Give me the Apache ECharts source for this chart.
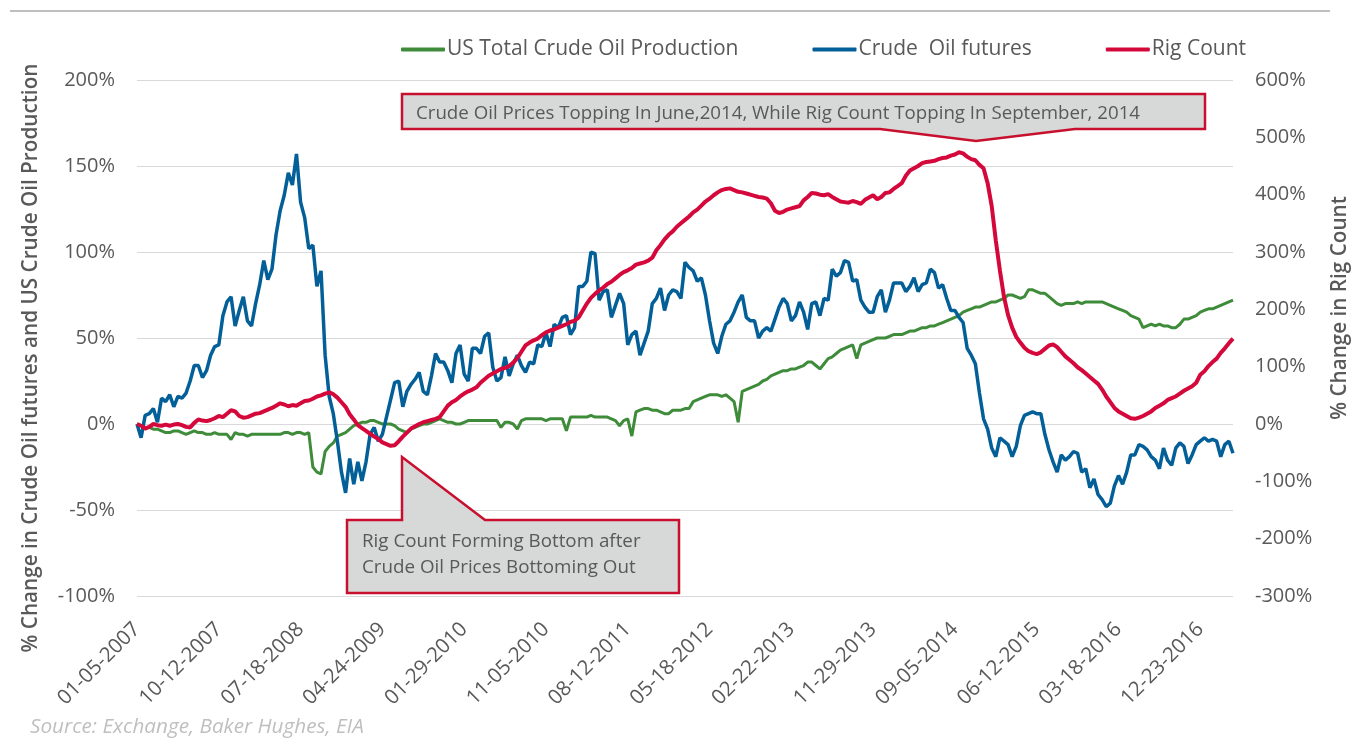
<!DOCTYPE html>
<html>
<head>
<meta charset="utf-8">
<script src="https://cdn.jsdelivr.net/npm/echarts@6/dist/echarts.min.js"></script>
<style>
html,body{margin:0;padding:0;background:#fff;}
#chart{width:1358px;height:753px;}
</style>
</head>
<body>
<div id="chart"></div>
<script>
// Weekly x positions: index i corresponds to week i*STEP after 01-05-2007
var STEP = 2;
var MAX_WEEK = 536;
var tickLabels = ['01-05-2007','10-12-2007','07-18-2008','04-24-2009','01-29-2010','11-05-2010','08-12-2011','05-18-2012','02-22-2013','11-29-2013','09-05-2014','06-12-2015','03-18-2016','12-23-2016'];
var seriesNames = ['US Total Crude Oil Production', 'Crude  Oil futures', 'Rig Count'];

// US Total Crude Oil Production, % change (left axis), biweekly
var production = [
  0,-1,-2,-2,-3,-3,-4,-5,-5,-4,-4,-5,-6,-5,-4,-5,-5,-6,-6,-5,-6,-6,-6,-9,-5,-6,
  -6,-7,-6,-6,-6,-6,-6,-6,-6,-6,-5,-5,-6,-5,-5,-6,-5,-25,-28,-29,-16,-13,-11,-7,-6,-5,
  -3,-1,0,1,1,2,2,1,0,0,0,-1,-3,-4,-5,-3,-2,-1,0,0,1,2,3,2,1,1,
  0,0,1,2,2,2,2,2,2,2,2,-2,1,1,0,-3,2,3,3,3,3,3,2,3,3,3,3,
  -4,4,4,4,4,4,5,4,4,4,4,3,2,-1,2,3,-7,7,8,9,9,8,8,7,6,6,
  8,8,8,9,9,13,14,15,16,17,17,17,16,17,15,13,1,19,20,21,22,23,25,26,28,29,
  30,31,31,32,32,33,34,36,36,34,32,35,38,39,41,43,44,45,46,38,46,47,48,49,50,50,
  50,51,52,52,52,53,54,54,55,56,56,57,57,58,59,60,61,62,63,65,66,67,68,68,69,70,
  71,71,72,73,75,75,74,73,74,78,78,77,76,76,74,72,70,69,70,70,70,71,70,71,71,71,
  71,71,70,69,68,67,66,65,63,62,61,56,57,58,57,58,57,57,56,56,58,61,61,62,63,65,
  66,67,67,68,69,70,71,72
];

// Crude Oil futures, % change (left axis), biweekly
var crude = [
  0,-8,5,6,9,1,15,13,17,10,16,15,18,25,34,34,27,31,40,45,46,63,71,74,57,66,
  74,60,57,70,81,95,84,90,110,124,133,146,139,157,129,120,102,104,80,89,40,16,6,-10,-28,-40,
  -20,-35,-22,-33,-22,-6,-2,-10,-6,4,14,24,25,10,19,23,26,30,19,17,28,41,36,36,31,24,
  41,46,29,25,44,44,41,51,53,33,25,27,39,28,35,40,34,30,36,35,46,45,53,45,58,56,62,
  63,52,56,80,80,83,100,99,72,77,78,62,69,76,70,46,52,54,40,47,54,70,73,79,66,75,
  78,77,73,94,91,89,83,85,75,60,47,41,51,58,60,65,71,75,62,60,60,50,54,56,54,61,
  68,73,70,60,63,71,65,55,70,71,63,73,72,90,86,88,95,94,83,84,72,68,65,65,74,78,
  65,72,82,82,82,77,80,85,77,81,82,90,88,79,81,73,66,66,62,59,44,40,35,18,3,-3,
  -14,-19,-8,-10,-12,-19,-13,-1,5,6,7,6,6,-6,-15,-22,-28,-18,-21,-19,-16,-17,-28,-26,-37,-32,
  -41,-44,-48,-46,-36,-30,-35,-28,-18,-18,-12,-13,-15,-19,-21,-26,-14,-21,-24,-14,-11,-13,-23,-18,-12,-10,
  -8,-10,-9,-10,-19,-12,-10,-17
];

// Rig Count, % change (right axis), biweekly
var rigs = [
  0,-3,-8,-5,0,-2,-3,-1,-3,-1,0,-2,-5,-6,2,8,6,5,7,10,14,12,18,24,22,14,
  11,12,15,18,19,22,25,28,32,36,34,31,33,32,36,40,41,44,48,50,53,55,52,46,38,30,
  17,8,-2,-7,-12,-17,-22,-26,-32,-35,-38,-37,-30,-22,-15,-8,-4,0,3,5,7,9,12,22,32,38,
  42,48,53,57,60,64,72,78,84,88,92,96,98,101,107,115,126,137,142,146,149,155,160,163,165,168,171,
  174,178,180,186,198,210,220,227,233,238,244,248,254,260,265,268,272,278,280,282,285,290,303,312,322,330,
  336,344,350,356,362,369,374,381,388,393,399,404,408,410,411,408,405,404,402,400,398,396,395,393,385,372,
  368,370,374,376,378,380,390,396,403,402,400,399,401,396,392,388,387,386,389,387,384,391,395,399,392,396,
  403,404,410,415,420,433,442,446,450,455,457,458,459,462,464,465,468,470,474,472,466,462,460,452,446,420,
  380,320,268,222,190,168,152,142,133,127,124,122,125,131,137,139,134,126,118,112,106,99,94,88,82,76,
  70,60,48,38,28,22,18,14,10,9,11,14,18,22,28,32,36,42,45,48,53,58,62,66,72,86,
  92,101,108,114,124,132,141,149
];

var leftTitle = '% Change in Crude Oil futures and US Crude Oil Production';
var rightTitle = '% Change in Rig Count';
var sourceText = 'Source: Exchange, Baker Hughes, EIA';
var noteTop = 'Crude Oil Prices Topping In June,2014, While Rig Count Topping In September, 2014';
var noteBottom = ['Rig Count Forming Bottom after', 'Crude Oil Prices Bottoming Out'];

function toPairs(arr) {
  return arr.map(function (v, i) { return [i * STEP, v]; });
}

var FONT = '"Open Sans", "Noto Sans", sans-serif';
var TXT = '#595959';
var COLORS = ['#3e8b3a', '#035f98', '#d5083b'];

var chart = echarts.init(document.getElementById('chart'));
chart.setOption({
  animation: false,
  backgroundColor: '#ffffff',
  textStyle: { fontFamily: FONT },
  grid: { left: 137, right: 125, top: 80, bottom: 157, containLabel: false },
  legend: {
    left: 396, top: 34,
    itemWidth: 44, itemHeight: 4, itemGap: 74,
    icon: 'roundRect',
    textStyle: { fontFamily: FONT, fontSize: 21, color: TXT, padding: [0, 0, 0, -3] },
    data: seriesNames
  },
  xAxis: {
    type: 'value', min: 0, max: MAX_WEEK, interval: 40,
    axisLine: { show: false }, axisTick: { show: false }, splitLine: { show: false },
    axisLabel: {
      rotate: 45, margin: 30, fontSize: 20.5, color: TXT, fontFamily: FONT,
      showMaxLabel: false,
      formatter: function (v) { return (v % 40 === 0 && tickLabels[v / 40]) ? tickLabels[v / 40] : ''; }
    }
  },
  yAxis: [
    {
      type: 'value', position: 'left', min: -100, max: 200, interval: 50,
      axisLine: { show: false }, axisTick: { show: false },
      splitLine: { show: true, lineStyle: { color: '#d9d9d9', width: 1 } },
      axisLabel: { formatter: '{value}%', margin: 22, fontSize: 20, color: TXT, fontFamily: FONT }
    },
    {
      type: 'value', position: 'right', min: -300, max: 600, interval: 100,
      axisLine: { show: false }, axisTick: { show: false }, splitLine: { show: false },
      axisLabel: { formatter: '{value}%', margin: 22, fontSize: 20, color: TXT, fontFamily: FONT }
    }
  ],
  series: [
    { name: seriesNames[0], type: 'line', yAxisIndex: 0, data: toPairs(production), showSymbol: false, symbol: 'none',
      color: COLORS[0], lineStyle: { color: COLORS[0], width: 3 }, z: 2 },
    { name: seriesNames[1], type: 'line', yAxisIndex: 0, data: toPairs(crude), showSymbol: false, symbol: 'none',
      color: COLORS[1], lineStyle: { color: COLORS[1], width: 3.5 }, z: 3 },
    { name: seriesNames[2], type: 'line', yAxisIndex: 1, data: toPairs(rigs), showSymbol: false, symbol: 'none',
      color: COLORS[2], lineStyle: { color: COLORS[2], width: 4 }, z: 4 }
  ],
  graphic: [
    { type: 'line', shape: { x1: 10, y1: 11, x2: 1330, y2: 11 }, style: { stroke: '#bfbfbf', lineWidth: 2 } },
    { type: 'text', x: 31, y: 358, rotation: Math.PI / 2,
      style: { text: leftTitle, fill: TXT, font: '600 20.7px ' + FONT, textAlign: 'center', textVerticalAlign: 'middle', align: 'center', verticalAlign: 'middle' } },
    { type: 'text', x: 1340, y: 308, rotation: Math.PI / 2,
      style: { text: rightTitle, fill: TXT, font: '600 20.7px ' + FONT, textAlign: 'center', textVerticalAlign: 'middle', align: 'center', verticalAlign: 'middle' } },
    { type: 'text', x: 30, y: 727,
      style: { text: sourceText, fill: '#bfbfbf', font: 'italic 20.7px ' + FONT, textAlign: 'left', textVerticalAlign: 'middle', align: 'left', verticalAlign: 'middle' } },
    { type: 'polygon', z: 100,
      shape: { points: [[402, 94], [1205, 94], [1205, 129], [1075, 129], [976, 141], [880, 129], [402, 129]] },
      style: { fill: '#d7d8d8', stroke: '#c8102e', lineWidth: 2.5 } },
    { type: 'text', z: 101, x: 416, y: 114,
      style: { text: noteTop, fill: TXT, font: '18.7px ' + FONT, textAlign: 'left', textVerticalAlign: 'middle', align: 'left', verticalAlign: 'middle' } },
    { type: 'polygon', z: 100,
      shape: { points: [[347, 520], [402, 520], [402, 457], [485, 520], [679, 520], [679, 593], [347, 593]] },
      style: { fill: '#d7d8d8', stroke: '#c8102e', lineWidth: 2.5 } },
    { type: 'text', z: 101, x: 362, y: 542,
      style: { text: noteBottom[0], fill: TXT, font: '18.8px ' + FONT, textAlign: 'left', textVerticalAlign: 'middle', align: 'left', verticalAlign: 'middle' } },
    { type: 'text', z: 101, x: 362, y: 568,
      style: { text: noteBottom[1], fill: TXT, font: '18.8px ' + FONT, textAlign: 'left', textVerticalAlign: 'middle', align: 'left', verticalAlign: 'middle' } }
  ]
});
</script>
</body>
</html>
